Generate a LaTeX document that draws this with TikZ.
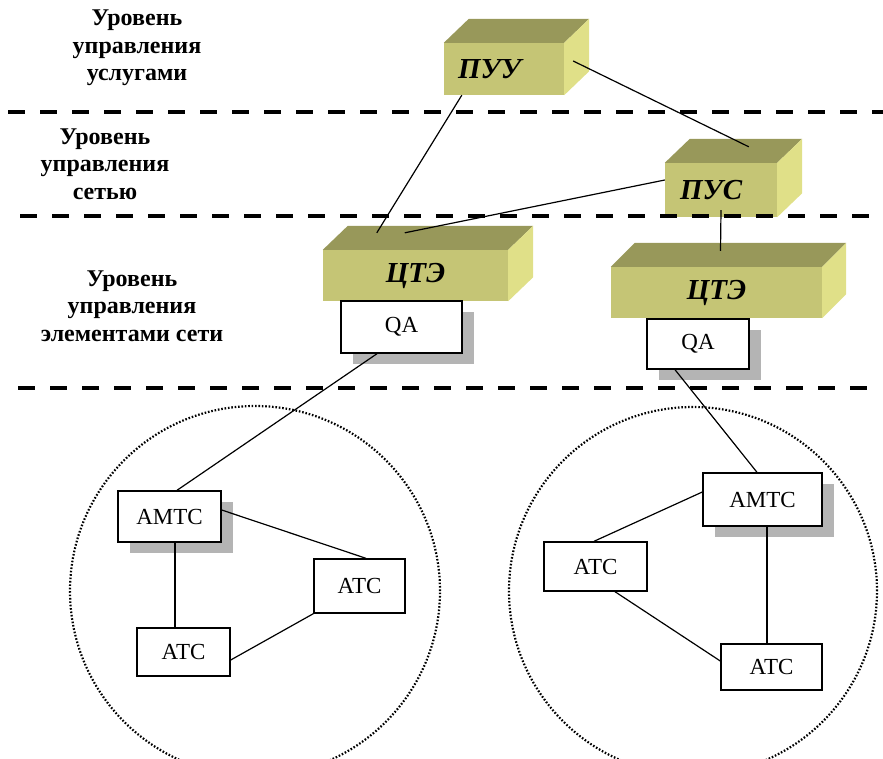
\documentclass[tikz,border=0pt]{standalone}
\usepackage{fontspec}
\setmainfont{Liberation Serif}
\usetikzlibrary{shadows}

\definecolor{cubefront}{RGB}{197,197,117}
\definecolor{cubetop}{RGB}{152,152,90}
\definecolor{cubeside}{RGB}{224,224,136}
\definecolor{shadowgray}{RGB}{180,180,180}

\begin{document}
\begin{tikzpicture}[x=1pt,y=-1pt,
    level/.style={align=center,font=\fontsize{24}{27.5}\selectfont\bfseries,inner sep=0pt},
    cube/.style={fill=cubefront,inner sep=0pt,font=\fontsize{29}{30}\selectfont\bfseries\itshape},
    box/.style={draw,fill=white,line width=1.4pt,inner sep=0pt,font=\fontsize{23}{24}\selectfont},
    shbox/.style={box,drop shadow={shadow xshift=12pt,shadow yshift=-11pt,fill=shadowgray,opacity=1}},
    sep/.style={line width=3.5pt,dash pattern=on 17pt off 15pt},
    net/.style={line width=2.2pt,dash pattern=on 1.6pt off 1.8pt},
    link/.style={line width=1.2pt}]
    \useasboundingbox (0,0) rectangle (883,758);

    % уровни
    \node[level] (lvl1) at (137,48) {Уровень\\управления\\услугами};
    \node[level] (lvl2) at (105,164) {Уровень\\управления\\сетью};
    \node[level] (lvl3) at (132,306) {Уровень\\управления\\элементами сети};

    % сети
    \draw[net] (255,591) circle (185pt);
    \draw[net] (693,591) circle (184pt);

    % кубы
    \node[cube,minimum height=52pt,text width=92pt,inner xsep=14pt,align=left] (puu) at (504,69) {ПУУ};
    \node[cube,minimum height=54pt,text width=82pt,inner xsep=15pt,align=left] (pus) at (721,190) {ПУС};
    \node[cube,minimum width=185pt,minimum height=51pt] (cte1) at (415.5,275.5) {ЦТЭ};
    \node[cube,minimum width=211pt,minimum height=51pt] (cte2) at (716.5,292.5) {ЦТЭ};

    \fill[cubetop] (puu.north west) -- ++(25,-24) -- ([xshift=25pt,yshift=24pt]puu.north east) -- (puu.north east) -- cycle;
    \fill[cubeside] (puu.north east) -- ++(25,-24) -- ([xshift=25pt,yshift=24pt]puu.south east) -- (puu.south east) -- cycle;
    \fill[cubetop] (pus.north west) -- ++(25,-24) -- ([xshift=25pt,yshift=24pt]pus.north east) -- (pus.north east) -- cycle;
    \fill[cubeside] (pus.north east) -- ++(25,-24) -- ([xshift=25pt,yshift=24pt]pus.south east) -- (pus.south east) -- cycle;
    \fill[cubetop] (cte1.north west) -- ++(25,-24) -- ([xshift=25pt,yshift=24pt]cte1.north east) -- (cte1.north east) -- cycle;
    \fill[cubeside] (cte1.north east) -- ++(25,-24) -- ([xshift=25pt,yshift=24pt]cte1.south east) -- (cte1.south east) -- cycle;
    \fill[cubetop] (cte2.north west) -- ++(24,-24) -- ([xshift=24pt,yshift=24pt]cte2.north east) -- (cte2.north east) -- cycle;
    \fill[cubeside] (cte2.north east) -- ++(24,-24) -- ([xshift=24pt,yshift=24pt]cte2.south east) -- (cte2.south east) -- cycle;

    % границы уровней
    \draw[sep] (8,112) -- (883,112);
    \draw[sep] (20,216) -- (876,216);
    \draw[sep] (18,388) -- (872,388);

    % QA
    \node[shbox,minimum width=121pt,minimum height=52pt] (qa1) at (401.5,327) {QA};
    \node[shbox,minimum width=102pt,minimum height=50pt] (qa2) at (698,344) {QA};

    % станции
    \node[shbox,minimum width=103pt,minimum height=51pt] (amts1) at (169.5,516.5) {АМТС};
    \node[box,minimum width=91pt,minimum height=54pt] (ats1r) at (359.5,586) {АТС};
    \node[box,minimum width=93pt,minimum height=48pt] (ats1b) at (183.5,652) {АТС};
    \node[shbox,minimum width=119pt,minimum height=53pt] (amts2) at (762.5,499.5) {АМТС};
    \node[box,minimum width=103pt,minimum height=49pt] (ats2l) at (595.5,566.5) {АТС};
    \node[box,minimum width=101pt,minimum height=46pt] (ats2b) at (771.5,667) {АТС};

    % связи
    \draw[link] ([xshift=18pt]puu.south west) -- ([xshift=54pt,yshift=17pt]cte1.north west);
    \draw[link] ([xshift=9pt,yshift=8pt]puu.east) -- ([xshift=84pt,yshift=16pt]pus.north west);
    \draw[link] ([yshift=10pt]pus.west) -- ([xshift=82pt,yshift=17pt]cte1.north west);
    \draw[link] ([yshift=7pt]pus.south) -- ([xshift=4pt,yshift=16pt]cte2.north);
    \draw[link] ([xshift=-24.5pt]qa1.south) -- ([xshift=7.5pt]amts1.north);
    \draw[link] ([xshift=-23pt]qa2.south) -- ([xshift=-5.5pt]amts2.north);
    \draw[link] ([yshift=6.5pt]amts1.east) -- ([xshift=6.5pt]ats1r.north);
    \draw[link] ([xshift=5.5pt]amts1.south) -- ([xshift=-8.5pt]ats1b.north);
    \draw[link] ([yshift=-8pt]ats1b.east) -- (ats1r.south west);
    \draw[link] ([yshift=7.5pt]amts2.west) -- ([xshift=-1.5pt]ats2l.north);
    \draw[link] ([xshift=19.5pt]ats2l.south) -- ([yshift=6pt]ats2b.west);
    \draw[link] ([xshift=4.5pt]amts2.south) -- ([xshift=-4.5pt]ats2b.north);

\end{tikzpicture}
\end{document}
